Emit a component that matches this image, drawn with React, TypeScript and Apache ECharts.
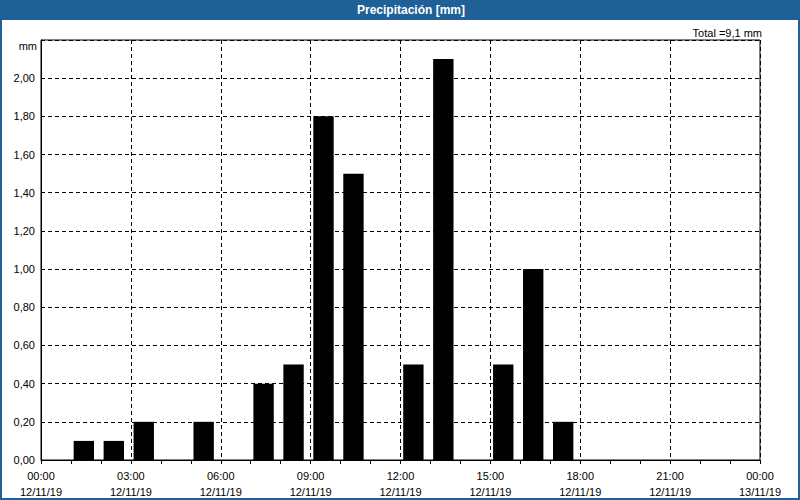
import React, { useEffect, useRef } from "react";
import * as echarts from "echarts";

// Hour at which each hourly accumulation interval starts (12/11/19)
const hourStarts: number[] = [0, 1, 2, 3, 4, 5, 6, 7, 8, 9, 10, 11, 12, 13, 14, 15, 16, 17, 18, 19, 20, 21, 22, 23];
// Hourly precipitation in mm
const precipitation: number[] = [0, 0.1, 0.1, 0.2, 0, 0.2, 0, 0.4, 0.5, 1.8, 1.5, 0, 0.5, 2.1, 0, 0.5, 1.0, 0.2, 0, 0, 0, 0, 0, 0];
// X tick labels (every 3 hours)
const xTimeLabels: string[] = ["00:00", "03:00", "06:00", "09:00", "12:00", "15:00", "18:00", "21:00", "00:00"];
const xDateLabels: string[] = ["12/11/19", "12/11/19", "12/11/19", "12/11/19", "12/11/19", "12/11/19", "12/11/19", "12/11/19", "13/11/19"];

const titleText = "Precipitación [mm]";
const unitText = "mm";

const FONT = "'Liberation Sans', Arial, sans-serif";
const BLUE = "#1f6096";

export default function App() {
  const ref = useRef<HTMLDivElement>(null);

  useEffect(() => {
    document.body.style.margin = "0";
    const chart = echarts.init(ref.current!, null, { renderer: "svg" });
    const total = precipitation.reduce((a, b) => a + b, 0);
    const totalText = `Total =${total.toFixed(1).replace(".", ",")} mm`;
    const data = hourStarts.map((h, i) => [h, precipitation[i]]);

    chart.setOption({
      animation: false,
      backgroundColor: "#ffffff",
      textStyle: { fontFamily: FONT },
      graphic: [
        { type: "rect", left: 0, top: 0, shape: { width: 800, height: 20 }, style: { fill: BLUE }, z: 10 },
        { type: "rect", left: 0, top: 0, shape: { width: 2, height: 500 }, style: { fill: BLUE }, z: 10 },
        { type: "rect", left: 798, top: 0, shape: { width: 2, height: 500 }, style: { fill: BLUE }, z: 10 },
        { type: "rect", left: 0, top: 498, shape: { width: 800, height: 2 }, style: { fill: BLUE }, z: 10 },
        {
          type: "text", x: 411, y: 10, z: 11,
          style: { text: titleText, fill: "#ffffff", font: `bold 12px ${FONT}`, textAlign: "center", textVerticalAlign: "middle" },
        },
        {
          type: "text", x: 762, y: 33, z: 11,
          style: { text: totalText, fill: "#000000", font: `11px ${FONT}`, textAlign: "right", textVerticalAlign: "middle" },
        },
        {
          type: "text", x: 37, y: 46, z: 11,
          style: { text: unitText, fill: "#000000", font: `11px ${FONT}`, textAlign: "right", textVerticalAlign: "middle" },
        },
      ],
      grid: {
        left: 41, right: 40, top: 40, bottom: 39,
        show: true, borderColor: "#000", borderWidth: 1, backgroundColor: "#ffffff",
      },
      xAxis: {
        type: "value",
        min: 0, max: 24, interval: 3,
        axisLine: { show: true, lineStyle: { color: "#000", width: 1 } },
        axisTick: { show: true, length: 4, lineStyle: { color: "#000" } },
        minorTick: { show: true, splitNumber: 3, length: 4, lineStyle: { color: "#000" } },
        splitLine: { show: true, lineStyle: { color: "#000", type: [4, 3], width: 1 } },
        axisLabel: {
          margin: 8, color: "#000", fontSize: 11, lineHeight: 16, fontFamily: FONT,
          showMinLabel: true, showMaxLabel: true,
          formatter: (v: number) => {
            const i = Math.round(v / 3);
            return `${xTimeLabels[i]}\n${xDateLabels[i]}`;
          },
        },
      },
      yAxis: {
        type: "value",
        min: 0, max: 2.2, interval: 0.2,
        axisLine: { show: true, lineStyle: { color: "#000", width: 1 } },
        axisTick: { show: false },
        splitLine: { show: true, lineStyle: { color: "#000", type: [4, 3], width: 1 } },
        axisLabel: {
          margin: 6, color: "#000", fontSize: 11, fontFamily: FONT,
          formatter: (v: number) => (v > 2.1 ? "" : v.toFixed(2).replace(".", ",")),
        },
      },
      series: [
        {
          type: "custom",
          data,
          encode: { x: 0, y: 1 },
          renderItem: (params: any, api: any) => {
            const h = api.value(0);
            const v = api.value(1);
            if (!v) return null;
            const p0 = api.coord([h + 0.09, 0]);
            const p1 = api.coord([h + 0.77, v]);
            return {
              type: "rect",
              shape: { x: p0[0], y: p1[1], width: p1[0] - p0[0], height: p0[1] - p1[1] },
              style: { fill: "#000000" },
            };
          },
          z: 5,
        },
      ],
    });
    return () => chart.dispose();
  }, []);

  return <div ref={ref} style={{ position: "fixed", left: 0, top: 0, width: 800, height: 500 }} />;
}
